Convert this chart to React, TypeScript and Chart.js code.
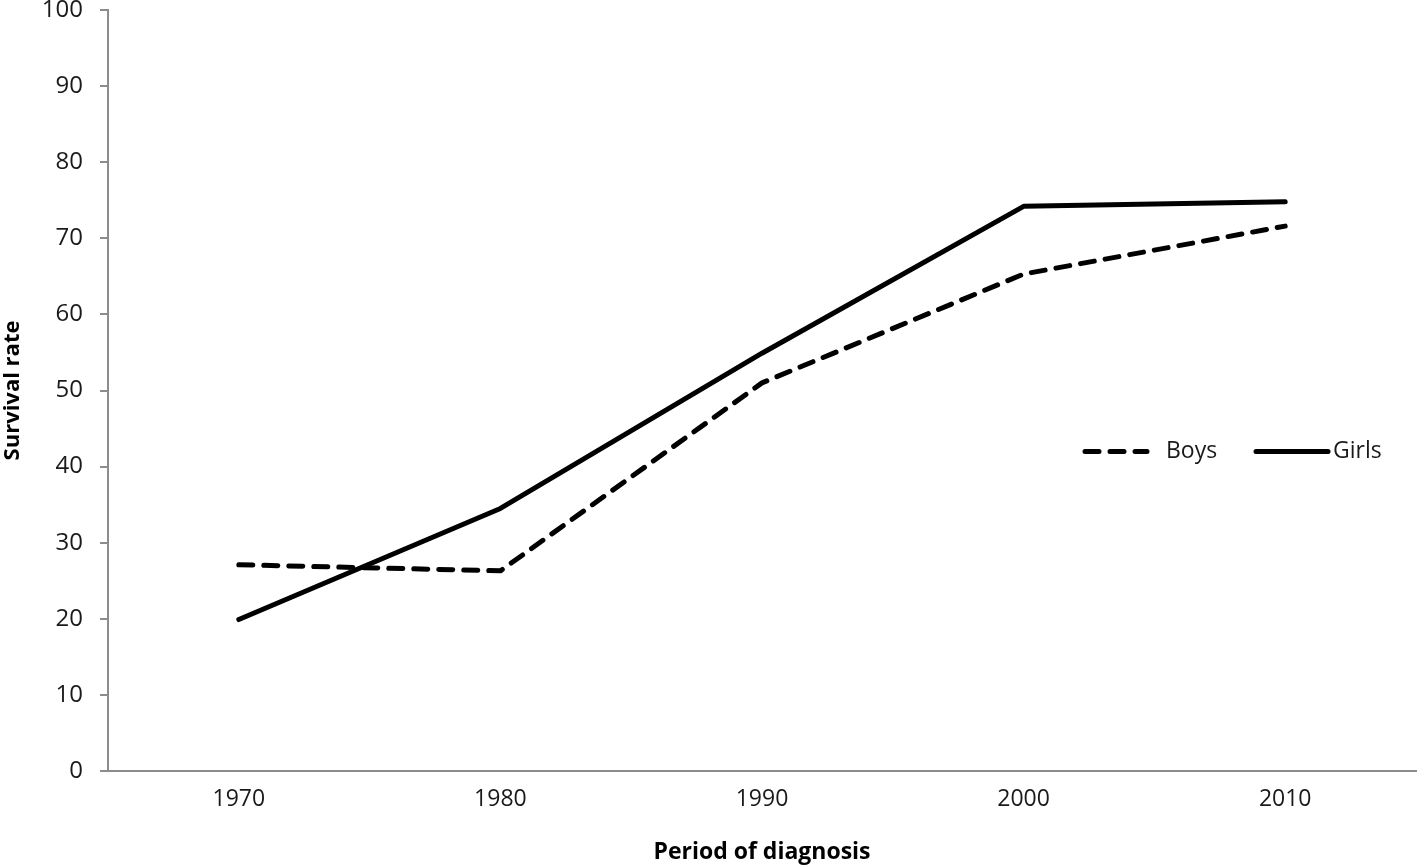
import React, { useEffect, useRef } from "react";
import { Chart, registerables } from "chart.js";

Chart.register(...registerables);

const categories = ["1970", "1980", "1990", "2000", "2010"];
const boys = [27.1, 26.3, 51.0, 65.3, 71.6];
const girls = [19.9, 34.5, 54.9, 74.2, 74.8];
const yTicks = [0, 10, 20, 30, 40, 50, 60, 70, 80, 90, 100];

const FONT = "'Open Sans', 'DejaVu Sans', sans-serif";
const AXIS = "#8c8c8c";

const legendPlugin = {
  id: "customLegend",
  afterDraw(chart: any) {
    const ctx = chart.ctx;
    const y = chart.scales.y.getPixelForValue(42.0);
    const items = [
      { ds: chart.data.datasets[0], x0: 1085, x1: 1147, tx: 1166 },
      { ds: chart.data.datasets[1], x0: 1256, x1: 1328, tx: 1333 },
    ];
    ctx.save();
    for (const it of items) {
      ctx.beginPath();
      ctx.lineWidth = it.ds.borderWidth;
      ctx.strokeStyle = it.ds.borderColor;
      ctx.lineCap = "round";
      ctx.setLineDash(it.ds.borderDash || []);
      ctx.moveTo(it.x0, y);
      ctx.lineTo(it.x1, y);
      ctx.stroke();
      ctx.setLineDash([]);
      ctx.fillStyle = "#1a1a1a";
      ctx.font = `23px ${FONT}`;
      ctx.textBaseline = "middle";
      ctx.textAlign = "left";
      ctx.fillText(it.ds.label, it.tx, y);
    }
    ctx.restore();
  },
};

export default function App() {
  const ref = useRef<HTMLCanvasElement>(null);
  useEffect(() => {
    const chart = new Chart(ref.current!, {
      type: "line",
      data: {
        labels: categories,
        datasets: [
          {
            label: "Boys",
            data: boys,
            borderColor: "#000",
            borderWidth: 5,
            borderDash: [14, 11],
            borderCapStyle: "round",
            borderJoinStyle: "round",
            pointRadius: 0,
            fill: false,
            tension: 0,
          },
          {
            label: "Girls",
            data: girls,
            borderColor: "#000",
            borderWidth: 5,
            borderCapStyle: "round",
            borderJoinStyle: "round",
            pointRadius: 0,
            fill: false,
            tension: 0,
          },
        ],
      },
      options: {
        animation: false,
        responsive: false,
        maintainAspectRatio: false,
        layout: { padding: { top: 10, right: 2, left: 0, bottom: 0 } },
        plugins: {
          legend: { display: false },
          tooltip: { enabled: false },
        },
        scales: {
          x: {
            type: "category",
            offset: true,
            grid: { display: true, drawOnChartArea: false, drawTicks: false, color: AXIS },
            border: { color: AXIS, width: 2 },
            ticks: { color: "#1a1a1a", font: { family: FONT, size: 23 }, padding: 15, maxRotation: 0 },
            title: {
              display: true,
              text: "Period of diagnosis",
              color: "#000",
              font: { family: FONT, size: 23, weight: "bold" },
              padding: { top: 14, bottom: 0 },
            },
            afterFit(scale: any) {
              scale.height = 95;
              scale.paddingLeft = 0;
              scale.paddingRight = 0;
            },
          },
          y: {
            min: 0,
            max: 100,
            afterBuildTicks(scale: any) {
              scale.ticks = yTicks.map((v) => ({ value: v }));
            },
            grid: { display: true, drawOnChartArea: false, drawTicks: true, tickLength: 8, color: AXIS, lineWidth: 2 },
            border: { color: AXIS, width: 2 },
            ticks: { color: "#1a1a1a", font: { family: FONT, size: 24 }, padding: 17 },
            title: {
              display: true,
              text: "Survival rate",
              color: "#000",
              font: { family: FONT, size: 22, weight: "bold" },
              padding: { top: 0, bottom: 4 },
            },
            afterFit(scale: any) {
              scale.width = 108;
              scale.paddingTop = 0;
              scale.paddingBottom = 0;
            },
          },
        },
      },
      plugins: [legendPlugin],
    } as any);
    return () => chart.destroy();
  }, []);
  return (
    <div style={{ position: "absolute", left: 0, top: 0, width: 1418, height: 866, background: "#fff" }}>
      <canvas ref={ref} width={1418} height={866} style={{ display: "block" }} />
    </div>
  );
}
